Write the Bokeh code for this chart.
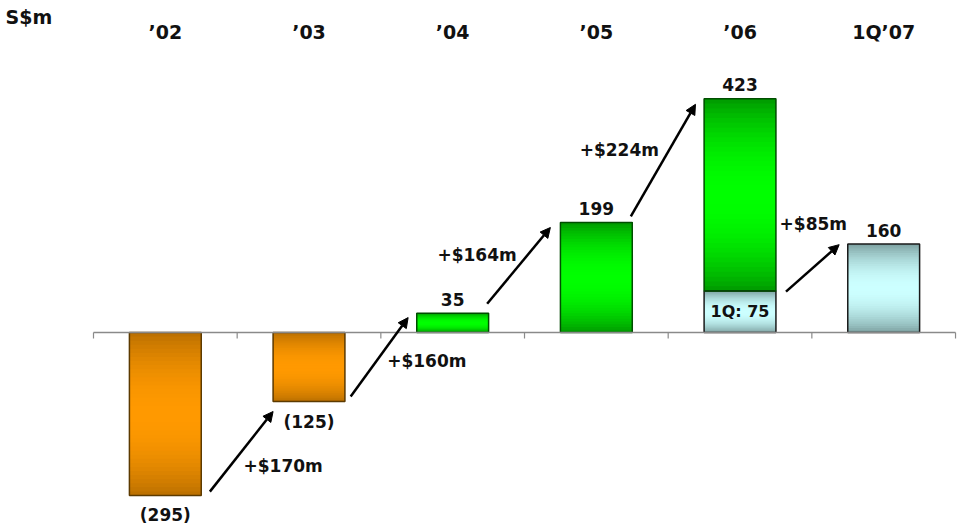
import numpy as np
from bokeh.plotting import figure
from bokeh.models import Range1d, Arrow, NormalHead
from bokeh.core.properties import value
from bokeh.embed import file_html
from bokeh.resources import INLINE

# ---- data ----
categories = ["\u201902", "\u201903", "\u201904", "\u201905", "\u201906", "1Q\u201907"]
values = [-295, -125, 35, 199, 423, 160]
q1_2006 = 75
q1_label = "1Q: 75"
value_labels = ["(295)", "(125)", "35", "199", "423", "160"]
change_labels = ["+$170m", "+$160m", "+$164m", "+$224m", "+$85m"]
change_x = [0.82, 1.82, 2.17, 3.16, 4.51]
change_y = [-241, -52, 141, 331, 196]
arrow_x0 = [0.31, 1.29, 2.24, 3.24, 4.32]
arrow_y0 = [-288, -116, 52, 210, 74]
arrow_x1 = [0.75, 1.69, 2.68, 3.69, 4.69]
arrow_y1 = [-143, 27, 190, 413, 159]
unit_label = "S$m"

# ---- layout ----
W, H = 958, 525
x_lo, x_hi = -1.1473, 5.5207
y_lo, y_hi = -349.3, 600.9
ppu = H / (y_hi - y_lo)      # pixels per y unit
ppx = W / (x_hi - x_lo)      # pixels per x unit
FONT = "DejaVu Sans"

p = figure(width=W, height=H, x_range=Range1d(x_lo, x_hi), y_range=Range1d(y_lo, y_hi),
           x_axis_type=None, y_axis_type=None, toolbar_location=None,
           output_backend="svg", min_border=0)
p.outline_line_color = None
p.grid.visible = False
p.background_fill_color = "white"

STYLES = {
    "orange": ((184, 110, 0), (255, 153, 0), "#5c3a00"),
    "green": ((0, 150, 0), (0, 255, 0), "#004d00"),
    "cyan": ((122, 158, 158), (204, 255, 255), "#1a1a1a"),
}

segments = []
for i, v in enumerate(values):
    if i == 4:
        segments.append((i, 0, q1_2006, "cyan"))
        segments.append((i, q1_2006, v, "green"))
    elif i == 5:
        segments.append((i, 0, v, "cyan"))
    else:
        segments.append((i, min(0, v), max(0, v), "orange" if v < 0 else "green"))

BW = 0.5
N = 40
gl, gr, gb, gt, gc = [], [], [], [], []
ol, orr, ob, ot, oc = [], [], [], [], []
for (i, b, t, st) in segments:
    edge, center, line = STYLES[st]
    edges = np.linspace(b, t, N + 1)
    for k in range(N):
        tm = (k + 0.5) / N
        f = np.sin(np.pi * tm) ** 0.8
        col = tuple(int(round(edge[c] + (center[c] - edge[c]) * f)) for c in range(3))
        gl.append(i - BW / 2); gr.append(i + BW / 2)
        gb.append(edges[k]); gt.append(t)   # each slice covers to the top; later ones overlay
        gc.append("#%02x%02x%02x" % col)
    ol.append(i - BW / 2); orr.append(i + BW / 2); ob.append(b); ot.append(t); oc.append(line)

p.quad(left=gl, right=gr, bottom=gb, top=gt, fill_color=gc, line_color=None)
p.quad(left=ol, right=orr, bottom=ob, top=ot, fill_color=None, line_color=oc, line_width=1.5)

# baseline axis with ticks at category boundaries
bounds = np.arange(len(categories) + 1) - 0.5
p.segment(x0=[bounds[0]], x1=[bounds[-1]], y0=[0], y1=[0], line_color="#8a8a8a", line_width=1.5)
p.segment(x0=bounds, x1=bounds, y0=[0] * len(bounds), y1=[-6 / ppu] * len(bounds),
          line_color="#8a8a8a", line_width=1.2)

# header labels
p.text(x=list(range(len(categories))), y=[y_hi - 31 / ppu] * len(categories),
       text=categories, text_font=value(FONT), text_font_style="bold", text_font_size="19px",
       text_align="center", text_baseline="middle", text_color="#111111")
p.text(x=[x_lo + 5 / ppx], y=[y_hi - 16 / ppu], text=[unit_label], text_font=value(FONT),
       text_font_style="bold", text_font_size="19px", text_align="left",
       text_baseline="middle", text_color="#111111")

# value labels
vx, vy = [], []
for i, v in enumerate(values):
    vx.append(i)
    vy.append(v + 14 / ppu if v > 0 else v - 20 / ppu)
p.text(x=vx, y=vy, text=value_labels, text_font=value(FONT), text_font_style="bold",
       text_font_size="17px", text_align="center", text_baseline="middle", text_color="#111111")
p.text(x=[4], y=[q1_2006 / 2], text=[q1_label], text_font=value(FONT), text_font_style="bold",
       text_font_size="16px", text_align="center", text_baseline="middle", text_color="#111111")

# change labels
p.text(x=change_x, y=change_y, text=change_labels, text_font=value(FONT), text_font_style="bold",
       text_font_size="17px", text_align="center", text_baseline="middle", text_color="#111111")

# arrows
for x0, y0, x1, y1 in zip(arrow_x0, arrow_y0, arrow_x1, arrow_y1):
    p.add_layout(Arrow(end=NormalHead(size=10, fill_color="black", line_color="black"),
                       x_start=x0, y_start=y0, x_end=x1, y_end=y1,
                       line_color="black", line_width=2.5))

open("out.html", "w").write(file_html(p, INLINE))
